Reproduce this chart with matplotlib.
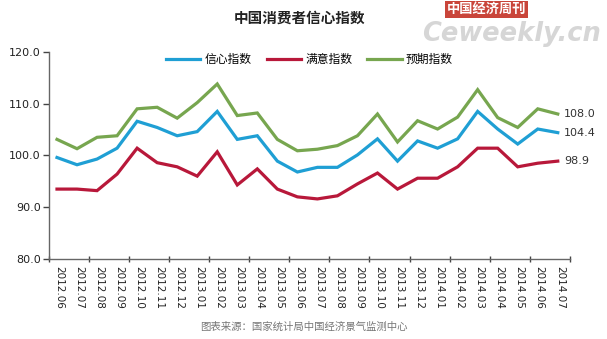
import matplotlib
matplotlib.use("Agg")
import matplotlib.pyplot as plt
import numpy as np

plt.rcParams['font.family'] = ['DejaVu Sans', 'Noto Sans CJK SC']

months = ["2012.06", "2012.07", "2012.08", "2012.09", "2012.10", "2012.11", "2012.12",
          "2013.01", "2013.02", "2013.03", "2013.04", "2013.05", "2013.06", "2013.07",
          "2013.08", "2013.09", "2013.10", "2013.11", "2013.12", "2014.01", "2014.02",
          "2014.03", "2014.04", "2014.05", "2014.06", "2014.07"]
confidence = [99.6, 98.2, 99.3, 101.4, 106.6, 105.4, 103.8, 104.6, 108.5, 103.1, 103.8, 98.9, 96.8,
              97.7, 97.7, 100.1, 103.2, 98.9, 102.8, 101.4, 103.2, 108.5, 105.1, 102.2, 105.1, 104.4]
satisfaction = [93.5, 93.5, 93.2, 96.4, 101.4, 98.6, 97.8, 96.0, 100.7, 94.3, 97.4, 93.5, 92.0,
                91.6, 92.2, 94.5, 96.6, 93.5, 95.6, 95.6, 97.8, 101.4, 101.4, 97.8, 98.5, 98.9]
expectation = [103.1, 101.3, 103.5, 103.8, 109.0, 109.3, 107.2, 110.2, 113.8, 107.7, 108.2, 103.1, 100.9,
               101.2, 101.9, 103.8, 108.0, 102.6, 106.7, 105.1, 107.4, 112.7, 107.3, 105.4, 109.0, 108.0]
series_names = ["信心指数", "满意指数", "预期指数"]
colors = ["#1f9fd4", "#b8183a", "#77a64f"]

fig = plt.figure(figsize=(6.07, 3.39), dpi=100)
ax = fig.add_axes([0.0807, 0.236, 0.858, 0.611])

x = np.arange(len(months))
for vals, name, c in zip([confidence, satisfaction, expectation], series_names, colors):
    ax.plot(x - 0.1, vals, color=c, lw=2.3, label=name, solid_joinstyle='miter')
    ax.text(x[-1] + 0.2, vals[-1], f"{vals[-1]:.1f}", fontsize=8, va='center', ha='left', color='#333333')

ax.set_xlim(-0.5, len(months) - 0.5)
ax.set_ylim(80, 120)
ax.set_yticks([80, 90, 100, 110, 120])
ax.set_yticklabels([f"{v:.1f}" for v in [80, 90, 100, 110, 120]], fontsize=8, color='#222222')
ax.set_xticks(x)
ax.set_xticklabels(months, rotation=-90, fontsize=7.5, color='#222222')
ax.set_xticks(np.arange(-0.5, len(months), 2), minor=True)
ax.tick_params(axis='x', which='major', length=0, pad=5)
ax.tick_params(axis='x', which='minor', length=5, direction='inout', color='#444444', width=1)
ax.tick_params(axis='y', length=4, color='#444444', width=1, pad=2)

for s in ['top', 'right']:
    ax.spines[s].set_visible(False)
for s in ['left', 'bottom']:
    ax.spines[s].set_color('#666666')
    ax.spines[s].set_linewidth(1)

ax.legend(loc='upper center', bbox_to_anchor=(0.5, 1.045), ncol=3, frameon=False,
          fontsize=8.5, handlelength=2.9, handletextpad=0.35, columnspacing=1.3)

fig.text(0.494, 0.945, "中国消费者信心指数", ha='center', va='center', fontsize=10.5,
         fontweight='bold', color='#222222')
fig.text(0.5, 0.035, "图表来源：国家统计局中国经济景气监测中心", ha='center', va='center',
         fontsize=7.5, color='#777777')

# watermark
fig.text(0.802, 0.972, "中国经济周刊", ha='center', va='center', fontsize=9.5, color='white',
         fontweight='bold', bbox=dict(facecolor='#c9453a', edgecolor='none', pad=1.2))
fig.text(0.842, 0.9, "Ceweekly.cn", ha='center', va='center', fontsize=18.5, color='#cfcfcf',
         fontweight='bold', style='italic', alpha=0.85)

fig.savefig("out.png", dpi=100)
